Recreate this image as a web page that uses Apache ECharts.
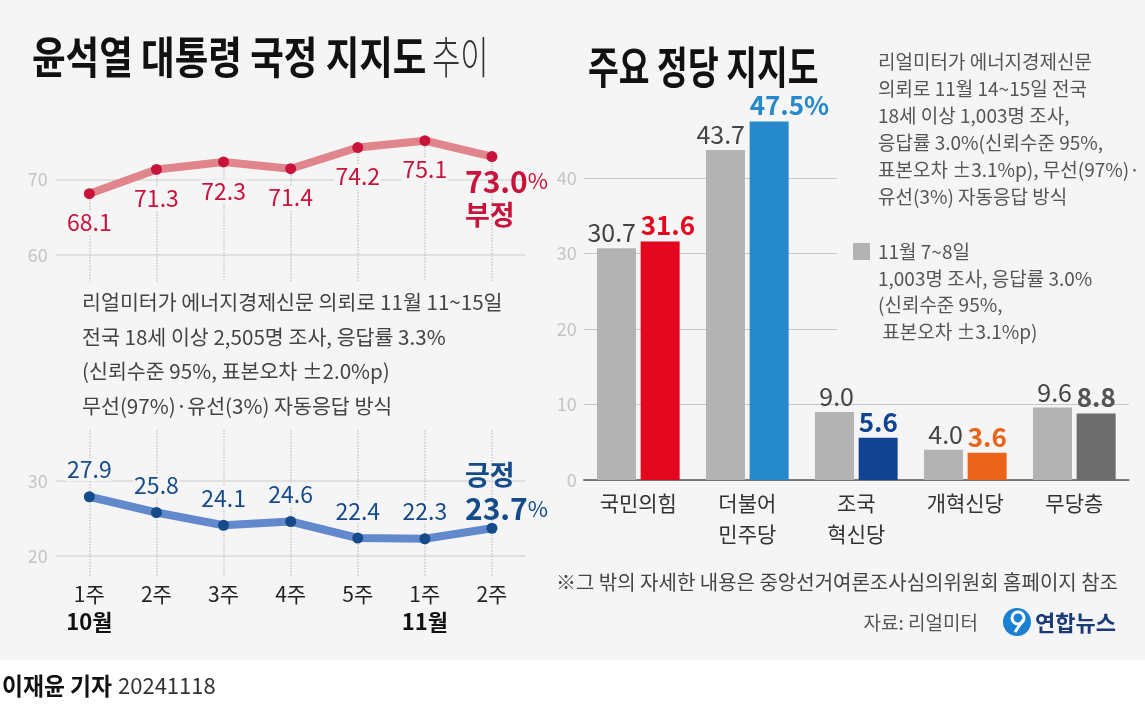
<!DOCTYPE html>
<html><head><meta charset="utf-8">
<script src="https://cdn.jsdelivr.net/npm/echarts@6/dist/echarts.min.js"></script>
<style>html,body{margin:0;padding:0;background:#fff}#c{width:1145px;height:704px}</style>
</head><body><div id="c"></div>
<script>
// ---- data ----
const weeks = ['1주','2주','3주','4주','5주','1주','2주'];
const months = ['10월','','','','','11월',''];
const negative = [68.1, 71.3, 72.3, 71.4, 74.2, 75.1, 73.0];
const positive = [27.9, 25.8, 24.1, 24.6, 22.4, 22.3, 23.7];
const topTicks = [60, 70];
const bottomTicks = [20, 30];
const parties = ['국민의힘', '더불어\n민주당', '조국\n혁신당', '개혁신당', '무당층'];
const prevShare = [30.7, 43.7, 9.0, 4.0, 9.6];
const currShare = [31.6, 47.5, 5.6, 3.6, 8.8];
const barTicks = [0, 10, 20, 30, 40];
const partyColors = ['#e2071f', '#2589cb', '#124393', '#ea6319', '#6d6d6d'];
const currLabelColors = ['#e2071f', '#2589cb', '#124393', '#ea6319', '#555555'];

// ---- styles ----
const FONT = '"Noto Sans CJK KR", "Noto Sans", sans-serif';
const BG = '#f5f5f5';
const RED = '#c8143c', RED_LINE = '#e0858b', NAVY = '#164b8a', BLUE_LINE = '#6189cc';
const TOP_MIN = 56.47, TOP_MAX = 76, BOT_MIN = 17.24, BOT_MAX = 36.8;
const n = negative.length;
const maxIdx = currShare.indexOf(Math.max(...currShare));

const topData = negative.map((v, i) => i === n - 1 ? {
  value: v,
  label: {
    position: 'bottom', distance: 2, align: 'left', offset: [-28, 0], backgroundColor: 'transparent',
    formatter: `{v|${v.toFixed(1)}}{p|%}\n{t|부정}`,
    rich: {
      v: {fontSize: 30, fontWeight: 'bold', color: RED, lineHeight: 34, fontFamily: FONT},
      p: {fontSize: 22, color: RED, lineHeight: 34, fontFamily: FONT},
      t: {fontSize: 27, fontWeight: 'bold', color: RED, lineHeight: 34, fontFamily: FONT}
    }
  }
} : v);

const botData = positive.map((v, i) => i === n - 1 ? {
  value: v,
  label: {
    position: 'top', distance: -3, align: 'left', offset: [-28, 0], backgroundColor: 'transparent',
    formatter: `{t|긍정}\n{v|${v.toFixed(1)}}{p|%}`,
    rich: {
      v: {fontSize: 30, fontWeight: 'bold', color: NAVY, lineHeight: 34, fontFamily: FONT},
      p: {fontSize: 22, color: NAVY, lineHeight: 34, fontFamily: FONT},
      t: {fontSize: 27, fontWeight: 'bold', color: NAVY, lineHeight: 34, fontFamily: FONT}
    }
  }
} : v);

const currData = currShare.map((v, i) => ({
  value: v,
  itemStyle: {color: partyColors[i]},
  label: {color: currLabelColors[i]}
}));

const yLabel = {color: '#c4c4c4', fontSize: 18, fontFamily: FONT, margin: 8};

const option = {
  animation: false,
  backgroundColor: BG,
  grid: [
    {left: 55.8, width: 469.7, top: 133.9, height: 147.8},
    {left: 55.8, width: 469.7, top: 430, height: 146.7},
    {left: 583.8, width: 545, top: 102.5, height: 377.5}
  ],
  xAxis: [
    {type: 'category', gridIndex: 0, data: weeks, axisLine: {show: false}, axisTick: {show: false}, axisLabel: {show: false}, splitLine: {show: false}},
    {type: 'category', gridIndex: 1, data: weeks, axisLine: {show: false}, axisTick: {show: false}, splitLine: {show: false},
      axisLabel: {interval: 0, color: '#222', fontSize: 21, fontFamily: FONT, lineHeight: 28, margin: 3,
        formatter: (val, idx) => months[idx] ? val + '\n{b|' + months[idx] + '}' : val,
        rich: {b: {fontSize: 22, fontWeight: 'bold', color: '#111', fontFamily: FONT, lineHeight: 28}}}},
    {type: 'category', gridIndex: 2, data: parties, axisLine: {lineStyle: {color: '#555', width: 1.5}}, axisTick: {show: false},
      axisLabel: {interval: 0, color: '#333', fontSize: 21, fontFamily: FONT, lineHeight: 31, margin: 8}}
  ],
  yAxis: [
    {type: 'value', gridIndex: 0, min: TOP_MIN, max: TOP_MAX, axisLine: {show: false},
      axisTick: {show: false, customValues: topTicks}, axisLabel: Object.assign({customValues: topTicks}, yLabel),
      splitLine: {lineStyle: {color: '#e0e0e0', width: 2}}},
    {type: 'value', gridIndex: 1, min: BOT_MIN, max: BOT_MAX, axisLine: {show: false},
      axisTick: {show: false, customValues: bottomTicks}, axisLabel: Object.assign({customValues: bottomTicks}, yLabel),
      splitLine: {lineStyle: {color: '#e0e0e0', width: 2}}},
    {type: 'value', gridIndex: 2, min: 0, max: 50, axisLine: {show: false},
      axisTick: {show: false, customValues: barTicks}, axisLabel: Object.assign({customValues: barTicks}, yLabel, {margin: 7}),
      splitLine: {lineStyle: {color: '#c8c8c8', width: 1}}}
  ],
  series: [
    {type: 'line', xAxisIndex: 0, yAxisIndex: 0, data: topData, symbol: 'circle', symbolSize: 11, z: 3,
      itemStyle: {color: RED}, lineStyle: {color: RED_LINE, width: 8},
      label: {show: true, position: 'bottom', distance: 12, color: RED, fontSize: 23, fontFamily: FONT,
        backgroundColor: BG, padding: [0, 1], formatter: p => p.value.toFixed(1)},
      markLine: {silent: true, symbol: 'none', z: 1, label: {show: false},
        lineStyle: {color: '#c9c9c9', type: 'dotted', width: 1.5},
        data: negative.map((v, i) => [{coord: [i, v]}, {coord: [i, TOP_MIN]}])}},
    {type: 'line', xAxisIndex: 1, yAxisIndex: 1, data: botData, symbol: 'circle', symbolSize: 11, z: 3,
      itemStyle: {color: NAVY}, lineStyle: {color: BLUE_LINE, width: 8},
      label: {show: true, position: 'top', distance: 10, color: NAVY, fontSize: 23, fontFamily: FONT,
        backgroundColor: BG, padding: [0, 1], formatter: p => p.value.toFixed(1)},
      markLine: {silent: true, symbol: 'none', z: 1, label: {show: false},
        lineStyle: {color: '#c9c9c9', type: 'dotted', width: 1.5},
        data: positive.map((v, i) => [{coord: [i, BOT_MAX]}, {coord: [i, BOT_MIN]}])}},
    {type: 'bar', xAxisIndex: 2, yAxisIndex: 2, data: prevShare, barWidth: 39, barGap: '12%',
      itemStyle: {color: '#b3b3b3'},
      label: {show: true, position: 'top', distance: 3, align: 'right', offset: [19.5, 0],
        color: '#444', fontSize: 25, fontFamily: FONT, formatter: p => p.value.toFixed(1)}},
    {type: 'bar', xAxisIndex: 2, yAxisIndex: 2, data: currData, barWidth: 39, barGap: '12%',
      label: {show: true, position: 'top', distance: 3, align: 'left', offset: [-19.5, 0],
        fontSize: 26, fontWeight: 'bold', fontFamily: FONT,
        formatter: p => p.value.toFixed(1) + (p.dataIndex === maxIdx ? '%' : '')}}
  ],
  graphic: [
    // cover to shorten the upper grid lines behind the notes
    {type: 'rect', z: 1, silent: true, shape: {x: 837, y: 150, width: 306, height: 195}, style: {fill: BG}},
    // white strip at bottom
    {type: 'rect', z: 1, silent: true, shape: {x: 0, y: 660, width: 1145, height: 44}, style: {fill: '#ffffff'}},
    {type: 'text', z: 2, x: 32, y: 57, scaleX: 0.83, style: {text: '윤석열 대통령 국정 지지도', font: `bold 44px ${FONT}`, fill: '#111', textVerticalAlign: 'middle'}},
    {type: 'text', z: 2, x: 432, y: 57, scaleX: 0.7, style: {text: '추이', font: `300 44px ${FONT}`, fill: '#333', textVerticalAlign: 'middle'}},
    {type: 'text', z: 2, x: 588, y: 67, scaleX: 0.76, style: {text: '주요 정당 지지도', font: `bold 44px ${FONT}`, fill: '#111', textVerticalAlign: 'middle'}},
    {type: 'text', z: 2, x: 82, y: 285, style: {text: '리얼미터가 에너지경제신문 의뢰로 11월 11~15일\n전국 18세 이상 2,505명 조사, 응답률 3.3%\n(신뢰수준 95%, 표본오차 ±2.0%p)\n무선(97%)·유선(3%) 자동응답 방식',
      font: `20.6px ${FONT}`, lineHeight: 34.5, fill: '#444', textVerticalAlign: 'top'}},
    {type: 'text', z: 2, x: 878, y: 48, style: {text: '리얼미터가 에너지경제신문\n의뢰로 11월 14~15일 전국\n18세 이상 1,003명 조사,\n응답률 3.0%(신뢰수준 95%,\n표본오차 ±3.1%p), 무선(97%)·\n유선(3%) 자동응답 방식',
      font: `19px ${FONT}`, lineHeight: 27, fill: '#555', textVerticalAlign: 'top'}},
    {type: 'rect', z: 2, shape: {x: 853, y: 243, width: 17, height: 17}, style: {fill: '#b3b3b3'}},
    {type: 'text', z: 2, x: 878, y: 238.3, style: {text: '11월 7~8일\n1,003명 조사, 응답률 3.0%\n(신뢰수준 95%,\n 표본오차 ±3.1%p)',
      font: `19px ${FONT}`, lineHeight: 26.7, fill: '#555', textVerticalAlign: 'top'}},
    {type: 'text', z: 2, x: 1118, y: 582, style: {text: '※그 밖의 자세한 내용은 중앙선거여론조사심의위원회 홈페이지 참조',
      font: `20px ${FONT}`, fill: '#444', textAlign: 'right', textVerticalAlign: 'middle'}},
    {type: 'text', z: 2, x: 978, y: 623, style: {text: '자료: 리얼미터', font: `19px ${FONT}`, fill: '#555', textAlign: 'right', textVerticalAlign: 'middle'}},
    {type: 'circle', z: 2, shape: {cx: 1017, cy: 622, r: 14}, style: {fill: '#1c80d3'}},
    {type: 'arc', z: 3, shape: {cx: 1018, cy: 618, r: 6, startAngle: 0, endAngle: Math.PI * 2}, style: {stroke: '#fff', lineWidth: 3, fill: 'none'}},
    {type: 'line', z: 3, shape: {x1: 1023, y1: 620, x2: 1015, y2: 632}, style: {stroke: '#fff', lineWidth: 3}},
    {type: 'text', z: 2, x: 1035, y: 623, style: {text: '연합뉴스', font: `bold 22px ${FONT}`, fill: '#1a3b78', textVerticalAlign: 'middle'}},
    {type: 'text', z: 2, x: 2, y: 686, scaleX: 0.95, style: {text: '이재윤 기자', font: `bold 24px ${FONT}`, fill: '#111', textVerticalAlign: 'middle'}},
    {type: 'text', z: 2, x: 118, y: 686, style: {text: '20241118', font: `22px ${FONT}`, fill: '#333', textVerticalAlign: 'middle'}}
  ]
};
const chart = echarts.init(document.getElementById('c'));
chart.setOption(option);
</script>
</body></html>
